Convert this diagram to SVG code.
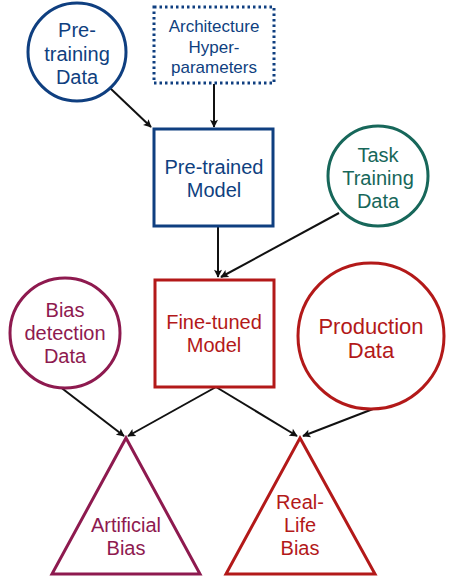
<svg xmlns="http://www.w3.org/2000/svg" width="449" height="587" viewBox="0 0 449 587">
<defs>
<marker id="ah" viewBox="0 0 10 10" refX="9" refY="5" markerWidth="9" markerHeight="8" orient="auto" markerUnits="userSpaceOnUse" style="overflow:visible">
<path d="M0,0 L10,5 L0,10 L2,5 z" fill="#111"/>
</marker>
<style>
text{font-family:"Liberation Sans",Arial,sans-serif;text-anchor:middle}
.shape{fill:#fff;stroke-width:3}
.blue{stroke:#0f3f80}
.tblue{fill:#0f3f80}
.teal{stroke:#17675a}
.tteal{fill:#17675a}
.maroon{stroke:#8e1a4f}
.tmaroon{fill:#8e1a4f}
.red{stroke:#b31919}
.tred{fill:#b31919}
.conn line{stroke:#111;stroke-width:2;marker-end:url(#ah)}
</style>
</defs>
<rect width="449" height="587" fill="#fff"/>
<g class="conn" id="connectors">
<line x1="110" y1="88" x2="151" y2="127"/>
<line x1="214" y1="84" x2="214" y2="127"/>
<line x1="218" y1="227" x2="218" y2="277"/>
<line x1="339" y1="213" x2="221" y2="277"/>
<line x1="59" y1="386" x2="124" y2="436"/>
<line x1="216" y1="387" x2="128" y2="436"/>
<line x1="216" y1="387" x2="297" y2="436"/>
<line x1="373" y1="409" x2="303" y2="436"/>
</g>
<g id="pretraining-data">
<circle class="shape blue" cx="77" cy="52" r="49"/>
<text class="tblue" font-size="20" x="77" y="37">Pre-</text>
<text class="tblue" font-size="20" x="77" y="61">training</text>
<text class="tblue" font-size="20" x="77" y="84">Data</text>
</g>
<g id="architecture">
<rect class="shape blue" x="154" y="7" width="120" height="76" stroke-dasharray="2.5,3"/>
<text class="tblue" font-size="17" x="214" y="32">Architecture</text>
<text class="tblue" font-size="17" x="214" y="53">Hyper-</text>
<text class="tblue" font-size="17" x="214" y="73">parameters</text>
</g>
<g id="pretrained-model">
<rect class="shape blue" x="154" y="129" width="119" height="97"/>
<text class="tblue" font-size="20" x="214" y="174">Pre-trained</text>
<text class="tblue" font-size="20" x="214" y="197">Model</text>
</g>
<g id="task-training-data">
<circle class="shape teal" cx="378" cy="176" r="50"/>
<text class="tteal" font-size="20" x="378" y="162">Task</text>
<text class="tteal" font-size="20" x="378" y="185">Training</text>
<text class="tteal" font-size="20" x="378" y="208">Data</text>
</g>
<g id="fine-tuned-model">
<rect class="shape red" x="155" y="280" width="119" height="107"/>
<text class="tred" font-size="20" x="214" y="329">Fine-tuned</text>
<text class="tred" font-size="20" x="214" y="352">Model</text>
</g>
<g id="bias-detection-data">
<circle class="shape maroon" cx="65" cy="333" r="55"/>
<text class="tmaroon" font-size="20" x="65" y="317">Bias</text>
<text class="tmaroon" font-size="20" x="65" y="340">detection</text>
<text class="tmaroon" font-size="20" x="65" y="363">Data</text>
</g>
<g id="production-data">
<circle class="shape red" cx="371" cy="336" r="73"/>
<text class="tred" font-size="22" x="371" y="334">Production</text>
<text class="tred" font-size="22" x="371" y="358">Data</text>
</g>
<g id="artificial-bias">
<polygon class="shape maroon" points="126,438 200,574 52,574"/>
<text class="tmaroon" font-size="20" x="126" y="532">Artificial</text>
<text class="tmaroon" font-size="20" x="126" y="555">Bias</text>
</g>
<g id="real-life-bias">
<polygon class="shape red" points="300,438 375,574 226,574"/>
<text class="tred" font-size="20" x="300" y="509">Real-</text>
<text class="tred" font-size="20" x="300" y="532">Life</text>
<text class="tred" font-size="20" x="300" y="555">Bias</text>
</g>
</svg>
